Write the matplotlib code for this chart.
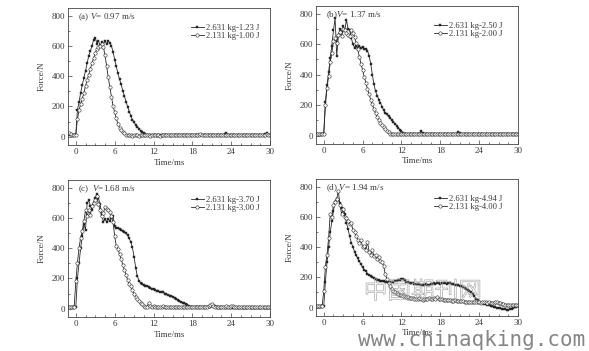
import numpy as np
import matplotlib
matplotlib.use('Agg')
import matplotlib.pyplot as plt
import matplotlib.patheffects as pe

plt.rcParams['font.family'] = ['Liberation Serif', 'DejaVu Serif']
plt.rcParams['mathtext.fontset'] = 'custom'
plt.rcParams['mathtext.it'] = 'Liberation Serif:italic'
plt.rcParams['mathtext.rm'] = 'Liberation Serif'

# sample times, 0.25 ms step from -1 to 30 ms
time_ms = np.arange(125) * 0.25 - 1.0

# panel (a)  V = 0.97 m/s
force_a_heavy = [10, 12, 10, 11, 12, 175, 230, 290, 340, 390, 435, 485,
                 535, 565, 600, 640, 655, 615, 635, 600, 625, 610, 632, 615,
                 630, 620, 600, 560, 510, 465, 420, 380, 345, 305, 270, 232,
                 198, 166, 138, 112, 95, 78, 66, 52, 40, 30, 22, 16,
                 12, 9, 8, 10, 8, 9, 7, 10, 9, 8, 10, 9,
                 8, 10, 9, 7, 9, 10, 8, 9, 11, 8, 9, 10,
                 9, 8, 10, 9, 8, 10, 9, 11, 8, 9, 10, 8,
                 9, 10, 8, 9, 11, 9, 8, 10, 9, 8, 10, 12,
                 18, 22, 14, 10, 9, 8, 10, 9, 8, 10, 9, 8,
                 10, 9, 8, 10, 9, 11, 8, 9, 10, 8, 9, 10,
                 12, 15, 24, 14, 10]
force_a_light = [22, 18, 10, 10, 12, 115, 175, 215, 250, 290, 335, 375,
                 410, 450, 485, 520, 552, 580, 590, 600, 612, 595, 540, 470,
                 395, 330, 265, 205, 160, 120, 85, 58, 45, 32, 22, 14,
                 10, 8, 9, 7, 8, 9, 8, 7, 9, 8, 10, 8,
                 9, 8, 7, 9, 10, 8, 9, 8, 7, 9, 8, 10,
                 8, 9, 10, 8, 9, 8, 10, 9, 8, 9, 10, 8,
                 9, 8, 10, 9, 8, 9, 10, 8, 12, 15, 10, 9,
                 8, 9, 10, 8, 9, 8, 10, 9, 8, 9, 10, 9,
                 8, 9, 10, 8, 9, 8, 10, 9, 8, 9, 10, 8,
                 9, 8, 10, 9, 8, 9, 10, 8, 9, 10, 8, 9,
                 12, 10, 18, 12, 9]

# panel (b)  V = 1.37 m/s
force_b_heavy = [10, 8, 10, 9, 12, 220, 330, 415, 510, 590, 690, 770,
                 520, 650, 700, 680, 720, 690, 760, 700, 690, 640, 600, 575,
                 590, 570, 585, 575, 580, 565, 570, 555, 525, 470, 400, 335,
                 290, 262, 235, 215, 190, 165, 150, 140, 125, 115, 102, 90,
                 78, 65, 52, 38, 28, 18, 12, 10, 8, 9, 7, 9,
                 10, 8, 9, 12, 28, 14, 9, 8, 10, 9, 8, 10,
                 9, 8, 10, 9, 8, 10, 9, 8, 10, 9, 8, 10,
                 9, 10, 12, 20, 14, 9, 8, 10, 9, 8, 10, 9,
                 8, 10, 9, 8, 10, 9, 8, 10, 9, 8, 10, 9,
                 8, 10, 9, 8, 10, 9, 8, 10, 9, 8, 10, 9,
                 10, 9, 12, 10, 9]
force_b_light = [12, 10, 10, 10, 12, 200, 310, 390, 480, 540, 620, 640,
                 610, 660, 680, 650, 700, 690, 670, 660, 650, 690, 675, 645,
                 610, 565, 515, 470, 430, 385, 345, 305, 270, 235, 205, 172,
                 145, 122, 102, 84, 68, 55, 42, 30, 20, 12, 9, 8,
                 9, 8, 10, 9, 8, 10, 9, 8, 10, 9, 8, 10,
                 9, 8, 10, 9, 12, 10, 9, 8, 10, 9, 8, 10,
                 9, 8, 10, 9, 8, 10, 9, 8, 10, 9, 8, 10,
                 9, 8, 10, 9, 8, 10, 9, 8, 10, 9, 8, 10,
                 9, 8, 10, 12, 10, 9, 8, 10, 9, 8, 10, 9,
                 8, 10, 9, 8, 10, 9, 8, 10, 9, 8, 10, 9,
                 10, 12, 10, 9, 10]

# panel (c)  V = 1.68 m/s
force_c_heavy = [10, 8, 10, 9, 10, 200, 300, 400, 480, 560, 520, 700,
                 715, 680, 650, 700, 730, 760, 730, 690, 620, 575, 590, 575,
                 595, 580, 600, 615, 545, 535, 530, 525, 520, 515, 508, 500,
                 485, 465, 440, 405, 340, 270, 215, 185, 170, 163, 158, 152,
                 148, 142, 138, 132, 128, 122, 118, 114, 110, 108, 112, 100,
                 95, 90, 86, 82, 76, 70, 65, 58, 52, 46, 40, 34,
                 28, 22, 15, 12, 10, 12, 10, 9, 11, 10, 12, 10,
                 10, 12, 11, 14, 18, 20, 15, 10, 8, 7, 9, 8,
                 6, 5, 3, 2, 3, 4, 2, 3, 5, 6, 4, 3,
                 4, 5, 6, 8, 7, 6, 5, 4, 6, 5, 7, 6,
                 6, 7, 5, 6, 5]
force_c_light = [12, 10, 12, 10, 180, 300, 400, 470, 510, 580, 650, 610,
                 650, 620, 680, 700, 720, 745, 690, 650, 610, 630, 670, 660,
                 650, 640, 610, 575, 480, 415, 395, 360, 330, 290, 255, 225,
                 190, 165, 150, 120, 100, 80, 65, 50, 38, 28, 18, 12,
                 10, 40, 18, 12, 15, 10, 12, 14, 10, 12, 15, 10,
                 12, 14, 10, 12, 11, 13, 10, 12, 14, 11, 12, 10,
                 12, 14, 11, 10, 12, 13, 11, 12, 10, 12, 14, 12,
                 13, 12, 15, 22, 30, 18, 12, 11, 13, 12, 14, 12,
                 13, 15, 12, 14, 18, 16, 13, 12, 14, 13, 12, 14,
                 12, 13, 14, 12, 13, 12, 14, 13, 12, 14, 13, 12,
                 13, 12, 14, 13, 12]

# panel (d)  V = 1.94 m/s
force_d_heavy = [10, 9, 10, 10, 12, 170, 300, 400, 500, 570, 640, 700,
                 720, 710, 690, 660, 650, 620, 560, 520, 470, 430, 400, 370,
                 345, 325, 305, 285, 265, 250, 240, 225, 215, 208, 200, 195,
                 188, 182, 180, 178, 176, 175, 172, 170, 172, 170, 168, 172,
                 175, 178, 180, 185, 190, 188, 180, 172, 168, 165, 162, 160,
                 158, 156, 155, 153, 152, 150, 152, 155, 150, 152, 155, 158,
                 160, 158, 162, 160, 158, 165, 162, 160, 158, 160, 162, 158,
                 155, 152, 150, 148, 145, 140, 135, 130, 125, 118, 110, 102,
                 90, 75, 60, 48, 38, 32, 28, 25, 22, 18, 15, 12,
                 10, 6, 2, 0, -3, -6, -8, -10, -12, -14, -15, -12,
                 -8, -3, 2, 6, 8]
force_d_light = [12, 10, 12, 10, 110, 270, 350, 460, 620, 600, 680, 700,
                 720, 770, 680, 620, 650, 600, 590, 575, 550, 560, 510, 500,
                 470, 450, 430, 445, 400, 410, 380, 435, 370, 350, 380, 340,
                 345, 320, 335, 305, 300, 275, 220, 190, 165, 140, 120, 108,
                 100, 95, 90, 85, 80, 78, 75, 72, 70, 66, 64, 62,
                 60, 58, 55, 62, 55, 50, 58, 55, 60, 62, 58, 60,
                 65, 60, 68, 58, 55, 58, 52, 50, 48, 52, 50, 46,
                 45, 48, 44, 46, 45, 42, 44, 40, 40, 38, 40, 36,
                 35, 36, 34, 35, 35, 33, 36, 34, 35, 32, 34, 30,
                 30, 32, 34, 35, 33, 30, 25, 22, 20, 18, 16, 15,
                 15, 14, 15, 16, 15]

panel_labels = ['(a) $V$= 0.97 m/s', '(b)$V$= 1.37 m/s',
                '(c)  $V$=1.68 m/s', '(d) $V$= 1.94 m/s']
heavy_labels = ['2.631 kg-1.23 J', '2.631 kg-2.50 J',
                '2.631 kg-3.70 J', '2.631 kg-4.94 J']
light_labels = ['2.131 kg-1.00 J', '2.131 kg-2.00 J',
                '2.131 kg-3.00 J', '2.131 kg-4.00 J']


def main():
    fig = plt.figure(figsize=(5.89, 3.51), dpi=100)
    ink = '#262626'
    txt = '#3a3a3a'

    positions = [[0.1155, 0.587, 0.343, 0.390],
                 [0.5365, 0.590, 0.343, 0.393],
                 [0.1155, 0.097, 0.343, 0.390],
                 [0.5365, 0.100, 0.343, 0.390]]
    legend_x = [0.95, 0.925, 0.95, 0.925]
    heavy = [force_a_heavy, force_b_heavy, force_c_heavy, force_d_heavy]
    light = [force_a_light, force_b_light, force_c_light, force_d_light]

    for k in range(4):
        ax = fig.add_axes(positions[k])
        ax.plot(time_ms, heavy[k], '-s', color=ink, lw=0.6, ms=2.0,
                mfc=ink, mec=ink, mew=0.3, label=heavy_labels[k])
        ax.plot(time_ms, light[k], '-o', color=ink, lw=0.6, ms=2.4,
                mfc='white', mec=ink, mew=0.4, label=light_labels[k])
        ax.set_xlim(-1.2, 30)
        ax.set_ylim(-55, 850)
        ax.set_xticks(np.arange(0, 31, 6))
        ax.set_xticks(np.arange(0, 31, 1.5), minor=True)
        ax.set_yticks(np.arange(0, 801, 200))
        ax.set_yticks(np.arange(0, 801, 100), minor=True)
        ax.tick_params(which='both', direction='in', labelsize=6.5,
                       colors='#444444', labelcolor=txt, width=0.5, pad=2)
        ax.tick_params(which='major', length=3)
        ax.tick_params(which='minor', length=1.5)
        for sp in ax.spines.values():
            sp.set_linewidth(0.6)
            sp.set_color('#444444')
        ax.set_xlabel('Time/ms', fontsize=6.5, color=txt, labelpad=2)
        ax.set_ylabel('Force/N', fontsize=6.5, color=txt, labelpad=4)
        ax.text(0.05, 0.935, panel_labels[k], transform=ax.transAxes,
                fontsize=6.5, color=txt, va='center')
        ax.legend(loc='upper right', bbox_to_anchor=(legend_x[k], 0.885),
                  frameon=False, fontsize=6.2, labelcolor=txt,
                  handlelength=1.5, handletextpad=0.3, labelspacing=0.0,
                  borderpad=0, borderaxespad=0, numpoints=1)

    # watermark of the source site
    fig.text(0.718, 0.168, '中国期刊网', fontsize=17, color='none',
             family=['Noto Sans CJK SC', 'DejaVu Sans'], ha='center', va='center',
             path_effects=[pe.Stroke(linewidth=0.45, foreground='#a0a0a0')])
    fig.text(0.608, 0.014, 'www.chinaqking.com', fontsize=15,
             family='DejaVu Sans Mono', color='#858585', ha='left',
             va='baseline')

    fig.savefig('out.png', dpi=100, facecolor='white')


if __name__ == '__main__':
    main()
